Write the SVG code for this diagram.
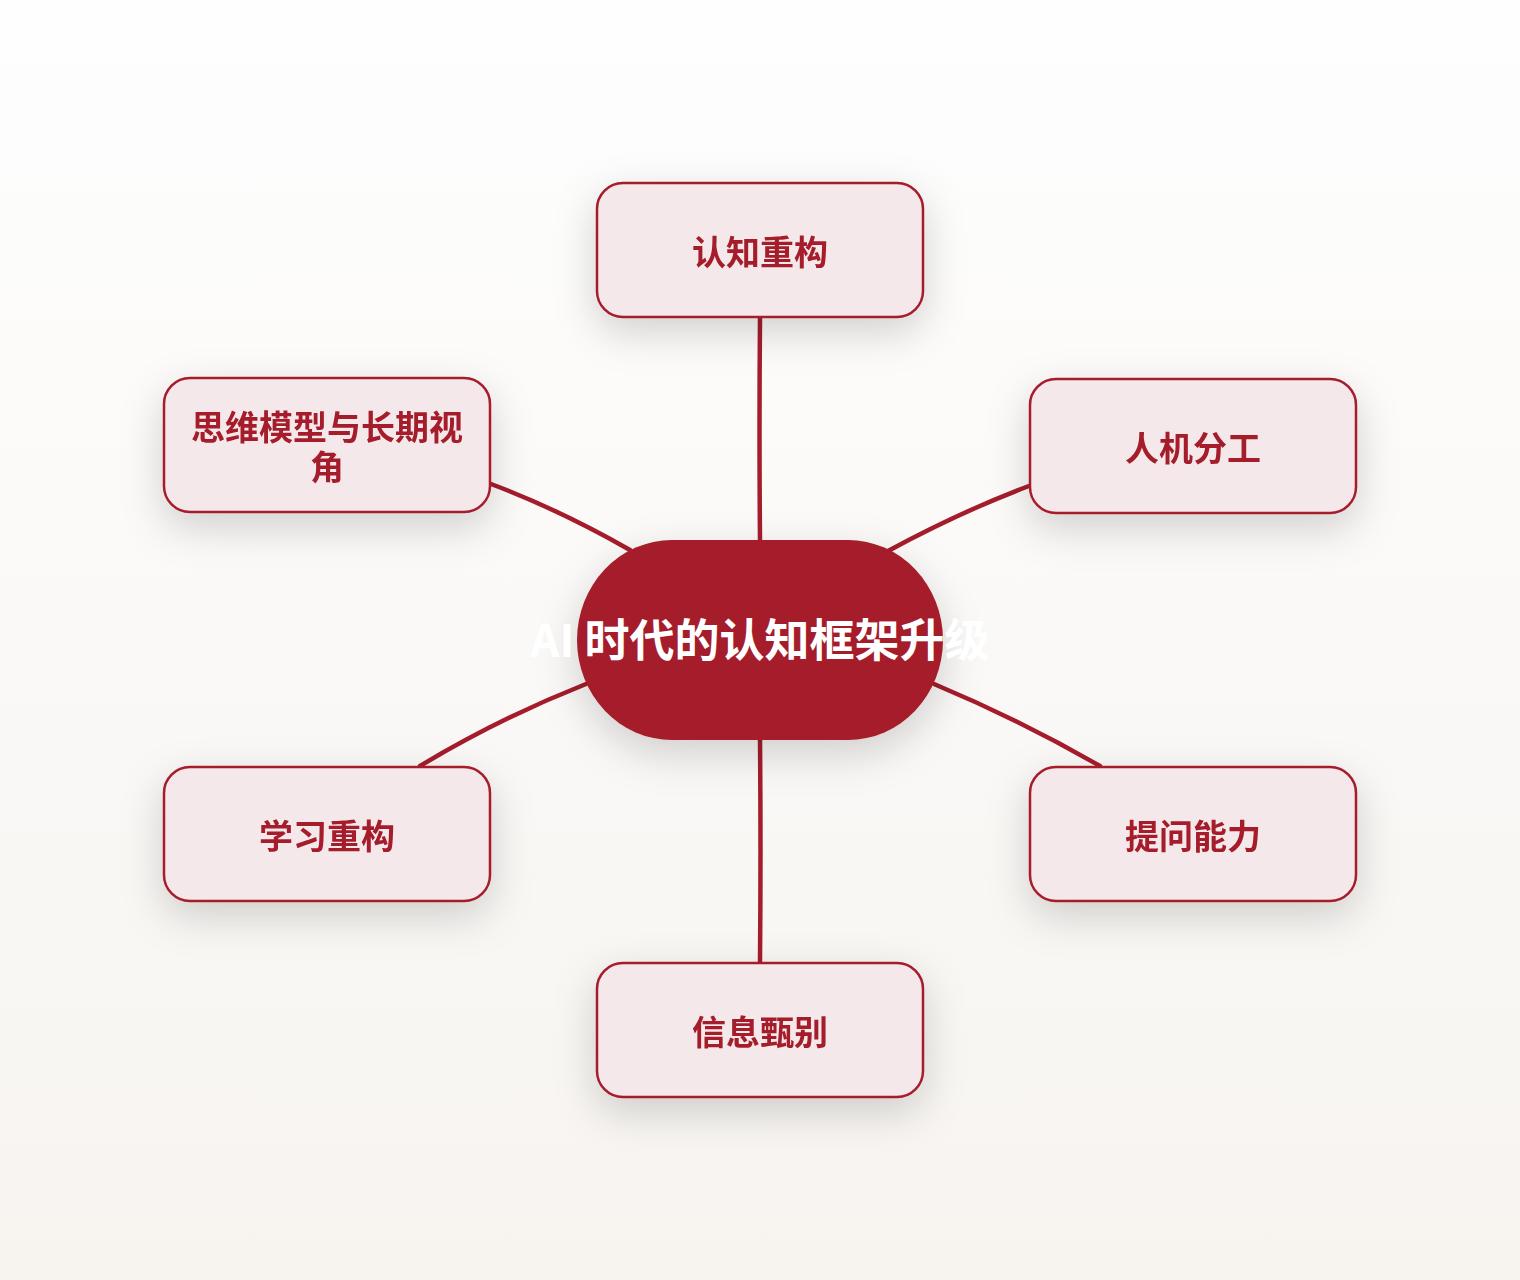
<svg xmlns="http://www.w3.org/2000/svg" width="1520" height="1280" viewBox="0 0 1520 1280">
<defs>
<linearGradient id="bg" x1="0" y1="0" x2="0" y2="1">
<stop offset="0" stop-color="#FEFEFE"/>
<stop offset="1" stop-color="#F7F4F0"/>
</linearGradient>
<filter id="sh" x="-40%" y="-40%" width="180%" height="200%">
<feDropShadow dx="0" dy="14" stdDeviation="20" flood-color="#000" flood-opacity="0.17"/>
</filter>
<style>
.box{fill:#F5E8EA;stroke:#A51C2B;stroke-width:2.5}
.lbl{font-family:"Noto Sans CJK SC","Noto Sans",sans-serif;font-weight:700;font-size:34px;fill:#A51C2B;text-anchor:middle}
.edge{fill:none;stroke:#A51C2B;stroke-width:4.5;stroke-linecap:round}
.ctr{fill:#A51C2B}
.ctxt{font-family:"Noto Sans CJK SC","Noto Sans",sans-serif;font-weight:700;font-size:45px;fill:#FFFFFF;text-anchor:middle}
</style>
</defs>
<rect width="1520" height="1280" fill="url(#bg)"/>
<g id="connectors">
<path class="edge" d="M760 318 Q759 430 760 540"/>
<path class="edge" d="M760 740 Q761 850 760 962"/>
<path class="edge" d="M491 484 Q560 510 630 550"/>
<path class="edge" d="M1029 486 Q960 512 888 551"/>
<path class="edge" d="M586 684 Q500 718 420 766"/>
<path class="edge" d="M934 684 Q1020 720 1100 766"/>
</g>
<g id="node-top" filter="url(#sh)">
<rect class="box" x="597" y="183" width="326" height="134" rx="26"/>
<text class="lbl" x="760" y="265">认知重构</text>
</g>
<g id="node-ul" filter="url(#sh)">
<rect class="box" x="164" y="378" width="326" height="134" rx="26"/>
<text class="lbl" x="327" y="440">思维模型与长期视</text>
<text class="lbl" x="327" y="480">角</text>
</g>
<g id="node-ur" filter="url(#sh)">
<rect class="box" x="1030" y="379" width="326" height="134" rx="26"/>
<text class="lbl" x="1193" y="461">人机分工</text>
</g>
<g id="node-ll" filter="url(#sh)">
<rect class="box" x="164" y="767" width="326" height="134" rx="26"/>
<text class="lbl" x="327" y="849">学习重构</text>
</g>
<g id="node-lr" filter="url(#sh)">
<rect class="box" x="1030" y="767" width="326" height="134" rx="26"/>
<text class="lbl" x="1193" y="849">提问能力</text>
</g>
<g id="node-bottom" filter="url(#sh)">
<rect class="box" x="597" y="963" width="326" height="134" rx="26"/>
<text class="lbl" x="760" y="1045">信息甄别</text>
</g>
<g id="node-center">
<rect class="ctr" x="577" y="540" width="366" height="200" rx="95" ry="100" filter="url(#sh)"/>
<text class="ctxt" x="760" y="657">AI 时代的认知框架升级</text>
</g>
</svg>
